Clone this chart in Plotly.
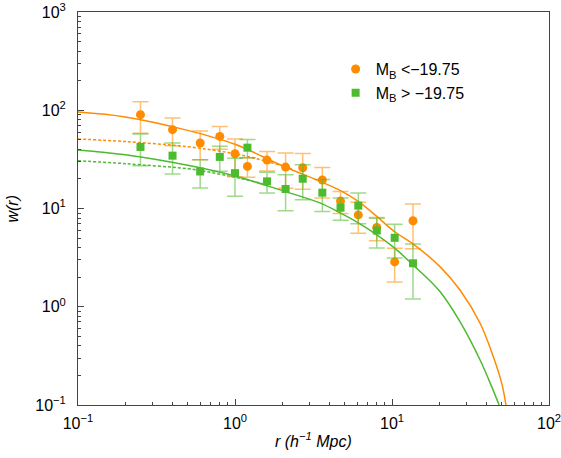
import plotly.graph_objects as go

# separation bins (h^-1 Mpc)
r_bins = [0.25, 0.4, 0.6, 0.8, 1.0, 1.2, 1.6, 2.1, 2.7, 3.6, 4.7, 6.1, 8.0, 10.4, 13.6]

# bright sample, M_B < -19.75
w_bright = [90.2, 63.4, 46.4, 54.2, 36.1, 26.8, 31.1, 26.4, 26.0, 19.5, 11.9, 8.6, 6.4, 2.86, 7.5]
err_bright = [32, 20, 15, 14, 15, 6, 7, 10.3, 10.3, 6.7, 3.0, 3.0, 1.7, 1.07, 3.6]

# faint sample, M_B > -19.75
w_faint = [42.3, 34.5, 23.8, 33.5, 22.9, 41.6, 18.9, 15.8, 20.1, 14.5, 10.2, 10.7, 5.97, 5.03, 2.77]
err_faint = [15, 12, 7.6, 9.5, 9.6, 8.7, 4.5, 6.3, 7.8, 5.2, 2.6, 3.7, 2.0, 1.9, 1.57]

# model curves
r_fit_bright = [0.1, 0.2, 0.5, 1.0, 2.0, 3.5, 4.7, 6.1, 8.0, 10.4, 13.6, 20.2, 27.1, 36.4, 44.2, 50.0, 53.2]
w_fit_bright = [96, 85.5, 62.4, 45, 27.2, 18.8, 15.2, 11.8, 8.3, 5.8, 4.37, 2.56, 1.48, 0.68, 0.31, 0.166, 0.1]
r_fit_faint = [0.1, 0.2, 0.5, 1.0, 2.0, 3.47, 4.71, 6.14, 8.0, 10.4, 13.6, 20.2, 27.1, 36.4, 43.2, 48.1]
w_fit_faint = [39.5, 35.2, 27.5, 21.4, 15.2, 11.4, 8.97, 7.1, 5.4, 3.95, 2.67, 1.43, 0.705, 0.287, 0.153, 0.1]

r_pl_bright = [0.1, 0.2, 0.5, 1.0, 1.6, 2.3]
w_pl_bright = [51, 48, 42.5, 36, 30.1, 25.4]
r_pl_faint = [0.1, 0.2, 0.5, 0.64, 1.0, 1.5]
w_pl_faint = [30.6, 28.6, 25.4, 23.9, 20.8, 17.9]

ORANGE = '#ff8c00'
GREEN = '#4cbb2e'
FONT = 'Liberation Sans, Arial'

fig = go.Figure()

for rr, ww, c, d in [(r_pl_bright, w_pl_bright, ORANGE, '3px,2px'),
                     (r_pl_faint, w_pl_faint, GREEN, '3px,2px'),
                     (r_fit_bright, w_fit_bright, ORANGE, 'solid'),
                     (r_fit_faint, w_fit_faint, GREEN, 'solid')]:
    fig.add_trace(go.Scatter(x=rr, y=ww, mode='lines', line=dict(color=c, width=1.5, dash=d, shape='spline'),
                             showlegend=False, hoverinfo='skip'))

fig.add_trace(go.Scatter(
    x=r_bins, y=w_bright, mode='markers', name='M<sub>B</sub> &lt;\u221219.75',
    marker=dict(symbol='circle', size=9, color=ORANGE),
    error_y=dict(type='data', array=err_bright, color='rgba(255,140,0,0.55)', thickness=1.5, width=8)
))
fig.add_trace(go.Scatter(
    x=r_bins, y=w_faint, mode='markers', name='M<sub>B</sub> &gt; \u221219.75',
    marker=dict(symbol='square', size=8, color=GREEN),
    error_y=dict(type='data', array=err_faint, color='rgba(76,187,46,0.55)', thickness=1.5, width=8)
))

decades_x = [0.1, 1, 10, 100]
decades_y = [0.1, 1, 10, 100, 1000]
minor_x = [m * d for d in [0.1, 1, 10] for m in range(2, 10)]
minor_y = [m * d for d in [0.1, 1, 10, 100] for m in range(2, 10)]

axis_common = dict(
    type='log', showgrid=False, zeroline=False, showline=True, linecolor='#444', linewidth=1,
    mirror=True, ticks='inside', ticklen=6, tickcolor='#444', automargin=False,
    ticklabeloverflow='allow',
    tickfont=dict(family=FONT, size=16, color='black'),
    minor=dict(ticks='inside', ticklen=3, tickcolor='#444', showgrid=False),
)

fig.update_xaxes(**axis_common, range=[-1, 2], tickvals=decades_x, ticklabelstandoff=4,
                 ticktext=['10<sup>\u22121</sup>', '10<sup>0</sup>', '10<sup>1</sup>', '10<sup>2</sup>'])
fig.update_xaxes(minor_tickvals=minor_x)
fig.update_yaxes(**axis_common, range=[-1, 3], tickvals=decades_y, ticklabelstandoff=8,
                 ticktext=['10<sup>\u22121</sup>', '10<sup>0</sup>', '10<sup>1</sup>', '10<sup>2</sup>', '10<sup>3</sup>'])
fig.update_yaxes(minor_tickvals=minor_y)

# axis titles as annotations for exact placement
fig.add_annotation(text='<i>r (h<sup>\u22121</sup> Mpc)</i>', xref='paper', yref='paper', x=0.5, y=-0.089,
                   xanchor='center', yanchor='middle', showarrow=False,
                   font=dict(family=FONT, size=16, color='black'))
fig.add_annotation(text='<i>w(r)</i>', xref='paper', yref='paper', x=-0.140, y=0.5, textangle=-90,
                   xanchor='center', yanchor='middle', showarrow=False,
                   font=dict(family=FONT, size=16, color='black'))

fig.update_layout(
    width=561, height=458,
    margin=dict(l=78, r=12, t=12, b=53),
    plot_bgcolor='white', paper_bgcolor='white',
    font=dict(family=FONT, size=16, color='black'),
    legend=dict(x=0.547, y=0.898, xanchor='left', yanchor='top', bgcolor='rgba(0,0,0,0)',
                font=dict(size=16), itemwidth=30, tracegroupgap=0),
)

# drop the default page margin so the figure sits at the window's corner
fig.write_html("out.html", config={'displayModeBar': False},
               post_script="document.body.style.margin='0';document.body.style.overflow='hidden';")
